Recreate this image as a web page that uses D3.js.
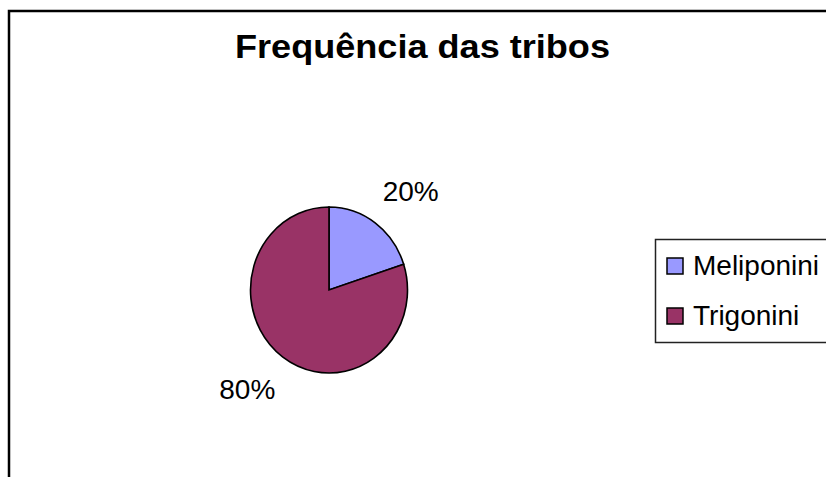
<!DOCTYPE html>
<html lang="en">
	<head>
		<meta charset="utf-8">
		<title>Frequência das tribos</title>
		<script type="text/javascript" src="https://cdn.jsdelivr.net/npm/d3@7"></script>
		<style type="text/css">
			body { margin: 0; background: #fff; }
			text { font-family: "Liberation Sans", Arial, sans-serif; }
		</style>
	</head>
	<body>
		<script type="text/javascript">

			//Data
			var tribes = ["Meliponini", "Trigonini"];
			var shares = [20, 80];
			var colors = ["#9999FF", "#993366"];

			//Width and height
			var w = 826;
			var h = 477;
			var cx = 329, cy = 290;
			var radius = 78.5;
			var squash = 83 / 78.5;   //pie is drawn a little taller than wide

			var svg = d3.select("body")
						.append("svg")
						.attr("width", w)
						.attr("height", h);

			//Chart border (runs off the right and bottom edge)
			svg.append("rect")
			   .attr("x", 9)
			   .attr("y", 11)
			   .attr("width", 900)
			   .attr("height", 600)
			   .attr("fill", "#fff")
			   .attr("stroke", "#000")
			   .attr("stroke-width", 2.5);

			//Title
			svg.append("text")
			   .attr("x", 422.5)
			   .attr("y", 58)
			   .attr("text-anchor", "middle")
			   .attr("font-size", "34px")
			   .attr("font-weight", "bold")
			   .attr("textLength", 375)
			   .attr("lengthAdjust", "spacingAndGlyphs")
			   .text("Frequência das tribos");

			var dataset = tribes.map(function(t, i) {
				return { name: t, value: shares[i], color: colors[i] };
			});
			var total = d3.sum(dataset, function(d) { return d.value; });

			var pie = d3.pie()
						.sort(null)
						.value(function(d) { return d.value; });

			var arc = d3.arc()
						.innerRadius(0)
						.outerRadius(radius);

			var labelArc = d3.arc()
							 .innerRadius(122)
							 .outerRadius(122);

			var arcs = pie(dataset);

			var g = svg.append("g")
					   .attr("transform", "translate(" + cx + "," + cy + ") scale(1," + squash + ")");

			g.selectAll("path")
			 .data(arcs)
			 .enter()
			 .append("path")
			 .attr("d", arc)
			 .attr("fill", function(d) { return d.data.color; })
			 .attr("stroke", "#000")
			 .attr("stroke-width", 1.6)
			 .attr("vector-effect", "non-scaling-stroke");

			//Percent labels
			svg.selectAll("text.pct")
			   .data(arcs)
			   .enter()
			   .append("text")
			   .attr("class", "pct")
			   .attr("x", function(d) {
					var c = labelArc.centroid(d);
					return cx + c[0] + (c[0] > 0 ? 10 : -10);
			   })
			   .attr("y", function(d) {
					return cy + labelArc.centroid(d)[1];
			   })
			   .attr("dy", "0.36em")
			   .attr("text-anchor", "middle")
			   .attr("font-size", "28px")
			   .text(function(d) { return Math.round(d.data.value / total * 100) + "%"; });

			//Legend
			var legend = svg.append("g");

			legend.append("rect")
				  .attr("x", 655.5)
				  .attr("y", 239.5)
				  .attr("width", 200)
				  .attr("height", 103)
				  .attr("fill", "#fff")
				  .attr("stroke", "#222")
				  .attr("stroke-width", 1.5);

			var rows = legend.selectAll("g.row")
							 .data(dataset)
							 .enter()
							 .append("g")
							 .attr("class", "row")
							 .attr("transform", function(d, i) {
								return "translate(0," + (275 + i * 50) + ")";
							 });

			rows.append("rect")
				.attr("x", 667)
				.attr("y", -17)
				.attr("width", 16)
				.attr("height", 16)
				.attr("fill", function(d) { return d.color; })
				.attr("stroke", "#000")
				.attr("stroke-width", 1.5);

			rows.append("text")
				.attr("x", 693)
				.attr("y", 0)
				.attr("font-size", "28px")
				.text(function(d) { return d.name; });

		</script>
	</body>
</html>
